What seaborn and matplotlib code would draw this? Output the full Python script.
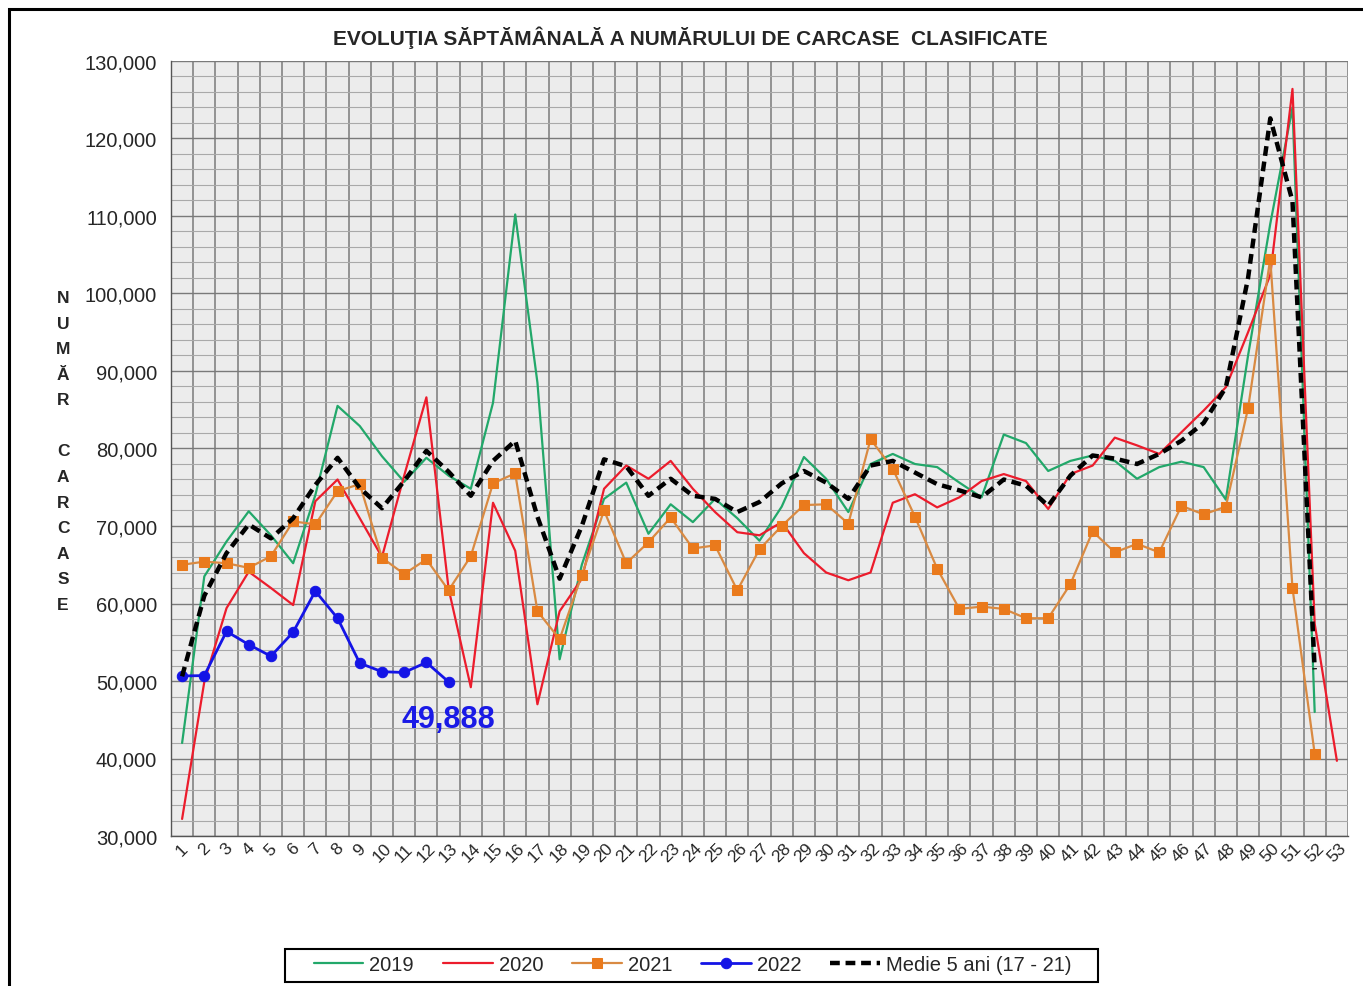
import matplotlib
matplotlib.use("Agg")
import matplotlib.pyplot as plt
import matplotlib.ticker as mticker
from matplotlib.patches import Rectangle
import numpy as np
import pandas as pd
import seaborn as sns

# ---- data ----
weeks = list(range(1, 54))

y2019 = [42000, 63500, 68000, 71900, 68800, 65200, 74000, 85500, 82900, 79000,
         75700, 78800, 76500, 74800, 85900, 110200, 88500, 52800, 65000, 73500,
         75600, 69000, 72800, 70500, 73500, 71000, 68100, 72500, 78900, 76100,
         71800, 78000, 79300, 78000, 77600, 75600, 73700, 81800, 80700, 77100,
         78400, 79100, 78400, 76100, 77600, 78300, 77600, 73400, 92000, 109000,
         124000, 46000]

y2020 = [32200, 49900, 59400, 64100, 62000, 59800, 73200, 76000, 71000, 66000,
         76500, 86600, 61900, 49200, 73000, 66800, 47000, 59000, 63200, 74800,
         77800, 76100, 78400, 74800, 71800, 69200, 68800, 70500, 66500, 64000,
         63000, 64000, 73000, 74100, 72400, 73700, 75800, 76700, 75800, 72200,
         76700, 77800, 81400, 80400, 79300, 82100, 84900, 87900, 95000, 102400,
         126400, 57400, 39700]

y2021 = [65000, 65400, 65200, 64600, 66100, 70600, 70200, 74500, 75400, 65900,
         63800, 65700, 61700, 66100, 75500, 76800, 59000, 55400, 63700, 72000,
         65200, 67900, 71100, 67100, 67500, 61700, 67000, 70000, 72700, 72800,
         70300, 81200, 77400, 71200, 64500, 59300, 59600, 59300, 58100, 58100,
         62500, 69300, 66600, 67700, 66600, 72600, 71500, 72500, 85200, 104500,
         62000, 40600]

y2022 = [50650, 50700, 56400, 54700, 53200, 56300, 61600, 58100, 52300, 51200,
         51100, 52400, 49888]

medie = [50600, 61000, 66500, 70200, 68400, 71000, 75300, 78800, 74900, 72300,
         75800, 79700, 77000, 73900, 78400, 81000, 71200, 63200, 70000, 78600,
         77700, 73900, 76100, 73900, 73500, 71800, 73100, 75500, 77100, 75600,
         73500, 77800, 78400, 76900, 75400, 74600, 73700, 76000, 75200, 72600,
         76500, 79100, 78700, 78000, 79300, 81000, 83300, 87900, 102000, 122600,
         111900, 51500]

title = "EVOLUŢIA SĂPTĂMÂNALĂ A NUMĂRULUI DE CARCASE  CLASIFICATE"
ylabel = "NUMĂR CARCASE"

# ---- style ----
sns.set_style("white")
plt.rcParams["font.family"] = ["Liberation Sans", "DejaVu Sans"]

W, H = 1363, 987
fig = plt.figure(figsize=(W / 100, H / 100), dpi=100)
ax = fig.add_axes([171 / W, 1 - 837 / H, 1177 / W, 775 / H])
ax.set_facecolor("#ececec")

# outer chart frame
fig.patches.append(Rectangle((9 / W, -0.05), 1.2, 1 - 10 / H + 0.05,
                             transform=fig.transFigure, fill=False,
                             edgecolor="black", linewidth=2.2, zorder=0))

# ---- series ----
sns.lineplot(x=weeks[:len(y2019)], y=y2019, ax=ax, color="#22a86a",
             linewidth=1.6, label="2019")
sns.lineplot(x=weeks[:len(y2020)], y=y2020, ax=ax, color="#ec1c2c",
             linewidth=1.6, label="2020")
sns.lineplot(x=weeks[:len(y2021)], y=y2021, ax=ax, color="#d98a42",
             linewidth=1.6, marker="s", markersize=7.5,
             markerfacecolor="#ea7a1c", markeredgecolor="#ea7a1c", label="2021")
sns.lineplot(x=weeks[:len(y2022)], y=y2022, ax=ax, color="#1414e6",
             linewidth=2.0, marker="o", markersize=7.5,
             markerfacecolor="#1414e6", markeredgecolor="#1414e6", label="2022")
sns.lineplot(x=weeks[:len(medie)], y=medie, ax=ax, color="black",
             linewidth=3.2, dashes=False, label="Medie 5 ani (17 - 21)")
ax.lines[-1].set_linestyle((0, (2.2, 1.3)))

# last 2022 value label
ax.annotate(f"{y2022[-1]:,}", xy=(weeks[len(y2022) - 1], y2022[-1]),
            xytext=(0, -27), textcoords="offset points", ha="center",
            va="center", color="#1a1ae6", fontsize=22, fontweight="bold")

# ---- axes ----
ax.set_xlim(0.5, 53.5)
ax.set_ylim(30000, 130000)
ax.yaxis.set_major_locator(mticker.MultipleLocator(10000))
ax.yaxis.set_minor_locator(mticker.MultipleLocator(2000))
ax.yaxis.set_major_formatter(mticker.FuncFormatter(lambda v, p: f"{int(v):,}"))
ax.set_xticks(weeks)
ax.set_xticklabels([str(w) for w in weeks], rotation=45, ha="center",
                   fontsize=12.5)
ax.set_xticks(np.arange(0.5, 54, 1), minor=True)
ax.tick_params(axis="x", which="major", length=0, pad=3)
ax.tick_params(axis="x", which="minor", length=5, color="#555555", direction="out")
ax.tick_params(axis="y", which="major", length=5, labelsize=14.5,
               color="#555555", pad=5)
ax.tick_params(axis="y", which="minor", length=0)
ax.grid(True, axis="y", which="major", color="#7a7a7a", linewidth=1.0)
ax.grid(True, axis="y", which="minor", color="#a9a9a9", linewidth=0.8)
ax.grid(True, axis="x", which="minor", color="#7a7a7a", linewidth=1.1)
ax.grid(False, axis="x", which="major")
ax.set_axisbelow(True)
for s in ["top", "right"]:
    ax.spines[s].set_visible(False)
for s in ["left", "bottom"]:
    ax.spines[s].set_color("#555555")
    ax.spines[s].set_linewidth(1.0)
ax.set_xlabel("")
ax.set_ylabel("")

# ---- texts ----
fig.text(690 / W, 1 - 38 / H, title, ha="center", va="center",
         fontsize=15, fontweight="bold")
fig.text(63 / W, 1 - 452 / H, "\n".join(ylabel),
         ha="center", va="center", fontsize=12.5, fontweight="bold",
         linespacing=1.88)

# ---- legend (Excel-style box with wider left padding) ----
handles, labels = ax.get_legend_handles_labels()
ax.get_legend().remove()
fig.patches.append(Rectangle((285 / W, 1 - 983 / H), 813 / W, 33 / H,
                             transform=fig.transFigure, facecolor="white",
                             edgecolor="black", linewidth=1.5, zorder=1))
leg = fig.legend(handles, labels, loc="center left", ncol=5,
                 bbox_to_anchor=(314 / W, 1 - 966 / H), fontsize=14.5,
                 frameon=False, handlelength=2.45, columnspacing=1.45,
                 handletextpad=0.3, borderpad=0, borderaxespad=0)
leg.set_zorder(2)

fig.savefig("out.png", dpi=100, facecolor="white")
